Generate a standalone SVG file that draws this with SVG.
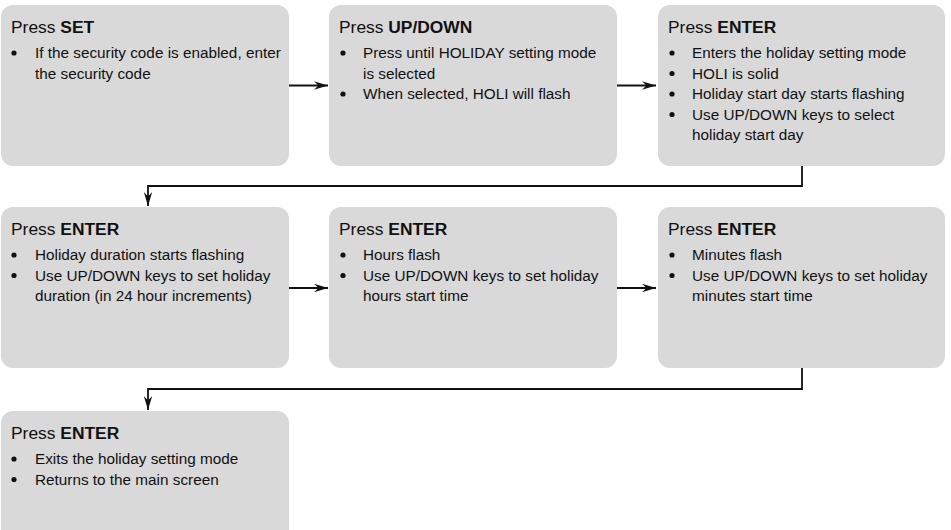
<svg xmlns="http://www.w3.org/2000/svg" width="951" height="530" viewBox="0 0 951 530">
<defs>
<style>
.box{fill:#d9d9d9;stroke:none}
.t{font-family:"Liberation Sans",Arial,sans-serif;fill:#111}
.h{font-size:17.4px}
.b{font-size:15.3px}
.bold{font-weight:bold}
.dot{fill:#111}
.conn{fill:none;stroke:#111;stroke-width:1.8}
</style>
<marker id="arr" markerUnits="userSpaceOnUse" markerWidth="16" markerHeight="12" refX="14" refY="5" orient="auto">
<path d="M0,0.8 L14,5 L0,9.2 L4.5,5 Z" fill="#111"/>
</marker>
</defs>

<g id="node1">
<rect class="box" x="1" y="5" width="288" height="161" rx="12"/>
<text class="t h" x="11" y="33">Press <tspan class="bold">SET</tspan></text>
<circle class="dot" cx="14" cy="53" r="2.6"/>
<text class="t b" x="35" y="58">If the security code is enabled, enter</text>
<text class="t b" x="35" y="78.5">the security code</text>
</g>

<g id="node2">
<rect class="box" x="329" y="5" width="288" height="161" rx="12"/>
<text class="t h" x="339" y="33">Press <tspan class="bold">UP/DOWN</tspan></text>
<circle class="dot" cx="343" cy="53" r="2.6"/>
<text class="t b" x="363" y="58">Press until HOLIDAY setting mode</text>
<text class="t b" x="363" y="78.5">is selected</text>
<circle class="dot" cx="343" cy="94" r="2.6"/>
<text class="t b" x="363" y="99">When selected, HOLI will flash</text>
</g>

<g id="node3">
<rect class="box" x="658" y="5" width="287" height="161" rx="12"/>
<text class="t h" x="668" y="33">Press <tspan class="bold">ENTER</tspan></text>
<circle class="dot" cx="672" cy="53" r="2.6"/>
<text class="t b" x="692" y="58">Enters the holiday setting mode</text>
<circle class="dot" cx="672" cy="73.5" r="2.6"/>
<text class="t b" x="692" y="78.5">HOLI is solid</text>
<circle class="dot" cx="672" cy="94" r="2.6"/>
<text class="t b" x="692" y="99">Holiday start day starts flashing</text>
<circle class="dot" cx="672" cy="114.5" r="2.6"/>
<text class="t b" x="692" y="119.5">Use UP/DOWN keys to select</text>
<text class="t b" x="692" y="140">holiday start day</text>
</g>

<g id="node4">
<rect class="box" x="1" y="207" width="288" height="161" rx="12"/>
<text class="t h" x="11" y="235">Press <tspan class="bold">ENTER</tspan></text>
<circle class="dot" cx="14" cy="255" r="2.6"/>
<text class="t b" x="35" y="260">Holiday duration starts flashing</text>
<circle class="dot" cx="14" cy="275.5" r="2.6"/>
<text class="t b" x="35" y="280.5">Use UP/DOWN keys to set holiday</text>
<text class="t b" x="35" y="301">duration (in 24 hour increments)</text>
</g>

<g id="node5">
<rect class="box" x="329" y="207" width="288" height="161" rx="12"/>
<text class="t h" x="339" y="235">Press <tspan class="bold">ENTER</tspan></text>
<circle class="dot" cx="343" cy="255" r="2.6"/>
<text class="t b" x="363" y="260">Hours flash</text>
<circle class="dot" cx="343" cy="275.5" r="2.6"/>
<text class="t b" x="363" y="280.5">Use UP/DOWN keys to set holiday</text>
<text class="t b" x="363" y="301">hours start time</text>
</g>

<g id="node6">
<rect class="box" x="658" y="207" width="287" height="161" rx="12"/>
<text class="t h" x="668" y="235">Press <tspan class="bold">ENTER</tspan></text>
<circle class="dot" cx="672" cy="255" r="2.6"/>
<text class="t b" x="692" y="260">Minutes flash</text>
<circle class="dot" cx="672" cy="275.5" r="2.6"/>
<text class="t b" x="692" y="280.5">Use UP/DOWN keys to set holiday</text>
<text class="t b" x="692" y="301">minutes start time</text>
</g>

<g id="node7">
<rect class="box" x="1" y="411" width="288" height="161" rx="12"/>
<text class="t h" x="11" y="439">Press <tspan class="bold">ENTER</tspan></text>
<circle class="dot" cx="14" cy="459" r="2.6"/>
<text class="t b" x="35" y="464">Exits the holiday setting mode</text>
<circle class="dot" cx="14" cy="479.5" r="2.6"/>
<text class="t b" x="35" y="484.5">Returns to the main screen</text>
</g>

<g id="connectors">
<path class="conn" d="M289,85.5 H328" marker-end="url(#arr)"/>
<path class="conn" d="M617,85.5 H656" marker-end="url(#arr)"/>
<path class="conn" d="M802,166 V186 H148 V206" marker-end="url(#arr)"/>
<path class="conn" d="M289,288 H328" marker-end="url(#arr)"/>
<path class="conn" d="M617,288 H656" marker-end="url(#arr)"/>
<path class="conn" d="M802,368 V389 H148 V410" marker-end="url(#arr)"/>
</g>
</svg>
